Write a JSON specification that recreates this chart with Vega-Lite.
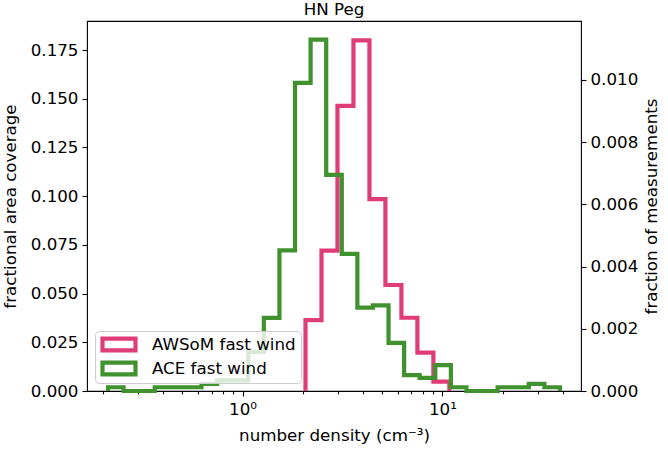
{
  "$schema": "https://vega.github.io/schema/vega-lite/v6.json",
  "autosize": {"type": "none"},
  "padding": {"left": 87, "top": 21, "right": 87, "bottom": 60},
  "width": 494,
  "height": 370,
  "background": "white",
  "title": {"text": "HN Peg", "fontSize": 16.7, "fontWeight": "normal", "font": "DejaVu Sans", "color": "black", "offset": 2},
  "config": {
    "font": "DejaVu Sans",
    "view": {"stroke": "black", "strokeWidth": 1.1},
    "axis": {
      "grid": false,
      "domain": false,
      "tickColor": "black",
      "tickWidth": 1.1,
      "tickSize": 5,
      "labelPadding": 4,
      "labelFont": "DejaVu Sans",
      "labelFontSize": 16.7,
      "labelColor": "black",
      "titleFont": "DejaVu Sans",
      "titleFontSize": 16.7,
      "titleFontWeight": "normal",
      "titleColor": "black"
    }
  },
  "datasets": {
    "awsom": [
      {"series": "AWSoM fast wind", "density": 2.0654, "coverage": 0},
      {"series": "AWSoM fast wind", "density": 2.0654, "coverage": 0.0364},
      {"series": "AWSoM fast wind", "density": 2.4831, "coverage": 0.072},
      {"series": "AWSoM fast wind", "density": 2.9854, "coverage": 0.1463},
      {"series": "AWSoM fast wind", "density": 3.5892, "coverage": 0.180},
      {"series": "AWSoM fast wind", "density": 4.3152, "coverage": 0.0985},
      {"series": "AWSoM fast wind", "density": 5.188, "coverage": 0.0544},
      {"series": "AWSoM fast wind", "density": 6.2373, "coverage": 0.0376},
      {"series": "AWSoM fast wind", "density": 7.4989, "coverage": 0.0197},
      {"series": "AWSoM fast wind", "density": 9.0157, "coverage": 0.0048},
      {"series": "AWSoM fast wind", "density": 10.839, "coverage": 0}
    ],
    "ace": [
      {"series": "ACE fast wind", "density": 0.2121, "fraction": 0},
      {"series": "ACE fast wind", "density": 0.2121, "fraction": 0.00012},
      {"series": "ACE fast wind", "density": 0.2537, "fraction": 0},
      {"series": "ACE fast wind", "density": 0.3038, "fraction": 0},
      {"series": "ACE fast wind", "density": 0.3635, "fraction": 0.00012},
      {"series": "ACE fast wind", "density": 0.4350, "fraction": 0.00012},
      {"series": "ACE fast wind", "density": 0.5206, "fraction": 0.00012},
      {"series": "ACE fast wind", "density": 0.6231, "fraction": 0.000225},
      {"series": "ACE fast wind", "density": 0.7457, "fraction": 0.00034},
      {"series": "ACE fast wind", "density": 0.8923, "fraction": 0.00034},
      {"series": "ACE fast wind", "density": 1.0678, "fraction": 0.00126},
      {"series": "ACE fast wind", "density": 1.2777, "fraction": 0.00235},
      {"series": "ACE fast wind", "density": 1.5293, "fraction": 0.00452},
      {"series": "ACE fast wind", "density": 1.8302, "fraction": 0.00991},
      {"series": "ACE fast wind", "density": 2.1904, "fraction": 0.0113},
      {"series": "ACE fast wind", "density": 2.6213, "fraction": 0.00695},
      {"series": "ACE fast wind", "density": 3.1370, "fraction": 0.00441},
      {"series": "ACE fast wind", "density": 3.7542, "fraction": 0.00268},
      {"series": "ACE fast wind", "density": 4.4928, "fraction": 0.00275},
      {"series": "ACE fast wind", "density": 5.3766, "fraction": 0.00155},
      {"series": "ACE fast wind", "density": 6.4346, "fraction": 0.00051},
      {"series": "ACE fast wind", "density": 7.7000, "fraction": 0.00042},
      {"series": "ACE fast wind", "density": 9.2153, "fraction": 0.00083},
      {"series": "ACE fast wind", "density": 11.028, "fraction": 0.00012},
      {"series": "ACE fast wind", "density": 13.198, "fraction": 0},
      {"series": "ACE fast wind", "density": 15.795, "fraction": 0},
      {"series": "ACE fast wind", "density": 18.902, "fraction": 0.00012},
      {"series": "ACE fast wind", "density": 22.622, "fraction": 0.00012},
      {"series": "ACE fast wind", "density": 27.072, "fraction": 0.00023},
      {"series": "ACE fast wind", "density": 32.398, "fraction": 0.00012},
      {"series": "ACE fast wind", "density": 38.774, "fraction": 0}
    ]
  },
  "encoding": {
    "x": {
      "field": "density",
      "type": "quantitative",
      "scale": {"type": "log", "domain": [0.1665, 49.4], "nice": false},
      "axis": {
        "title": "number density (cm⁻³)",
        "values": [0.2, 0.3, 0.4, 0.5, 0.6, 0.7, 0.8, 0.9, 1, 2, 3, 4, 5, 6, 7, 8, 9, 10, 20, 30, 40],
        "labelExpr": "datum.value === 1 ? '10⁰' : (datum.value === 10 ? '10¹' : '')",
        "tickSize": {"condition": {"test": "datum.value === 1 || datum.value === 10", "value": 5}, "value": 2.8},
        "labelPadding": 5,
        "titlePadding": 10,
        "labelFlush": false,
        "labelOverlap": false
      }
    },
    "color": {
      "field": "series",
      "type": "nominal",
      "scale": {"domain": ["AWSoM fast wind", "ACE fast wind"], "range": ["#e03d78", "#3f922d"]},
      "legend": {
        "title": null,
        "orient": "bottom-left",
        "offset": 8,
        "padding": 5,
        "fillColor": "rgba(255,255,255,0.8)",
        "strokeColor": "#cccccc",
        "cornerRadius": 4,
        "symbolType": "M-1,-0.355H1V0.355H-1Z",
        "symbolSize": 1089,
        "symbolStrokeWidth": 4.2,
        "symbolFillColor": "white",
        "clipHeight": 17,
        "rowPadding": 6,
        "labelOffset": 14,
        "labelFont": "DejaVu Sans",
        "labelFontSize": 16.7,
        "labelColor": "black"
      }
    }
  },
  "layer": [
    {
      "data": {"name": "awsom"},
      "mark": {"type": "line", "interpolate": "step-after", "strokeWidth": 4.2, "strokeJoin": "miter", "strokeCap": "butt"},
      "encoding": {
        "y": {
          "field": "coverage",
          "type": "quantitative",
          "scale": {"domain": [0, 0.1899], "nice": false},
          "axis": {
            "orient": "left",
            "title": "fractional area coverage",
            "values": [0, 0.025, 0.05, 0.075, 0.1, 0.125, 0.15, 0.175],
            "format": ".3f",
            "titlePadding": 11
          }
        }
      }
    },
    {
      "data": {"name": "ace"},
      "mark": {"type": "line", "interpolate": "step-after", "strokeWidth": 4.2, "strokeJoin": "miter", "strokeCap": "butt"},
      "encoding": {
        "y": {
          "field": "fraction",
          "type": "quantitative",
          "scale": {"domain": [0, 0.011897], "nice": false},
          "axis": {
            "orient": "right",
            "title": "fraction of measurements",
            "values": [0, 0.002, 0.004, 0.006, 0.008, 0.010],
            "format": ".3f",
            "titleAngle": 270,
            "titleBaseline": "top",
            "titlePadding": 6
          }
        }
      }
    }
  ],
  "resolve": {"scale": {"y": "independent"}}
}
